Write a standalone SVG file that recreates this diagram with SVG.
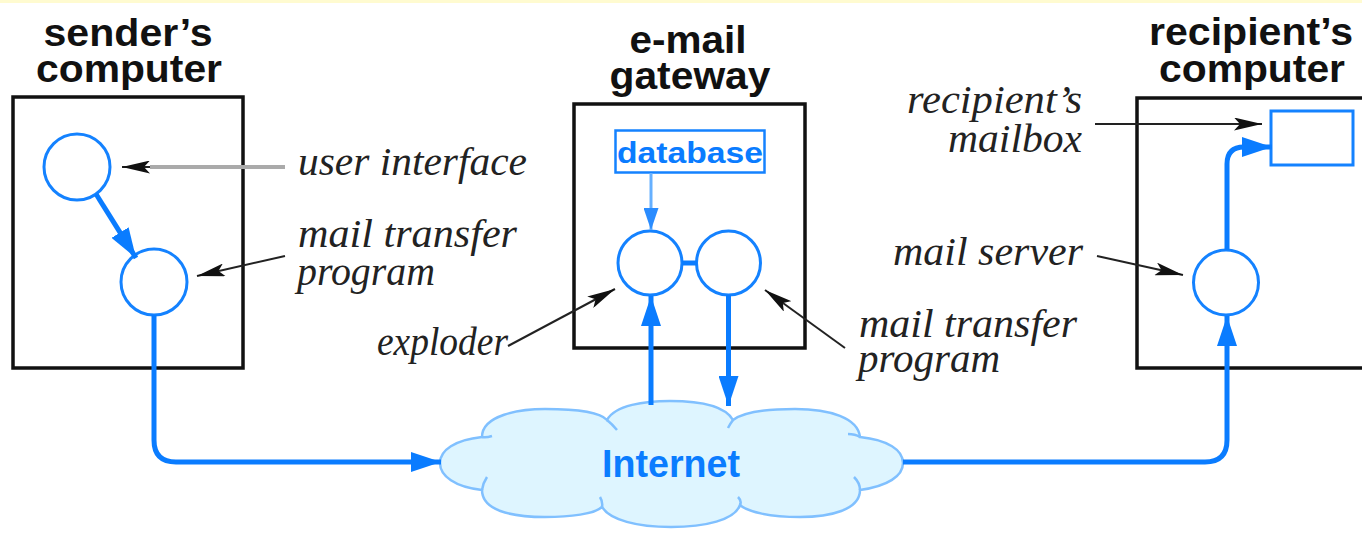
<svg xmlns="http://www.w3.org/2000/svg" width="1362" height="533" viewBox="0 0 1362 533">
<style>
.title{font-family:"Liberation Sans",Arial,sans-serif;font-weight:bold;font-size:38px;fill:#111;text-anchor:middle}
.lbl{font-family:"Liberation Serif","Times New Roman",serif;font-style:italic;font-size:40px;fill:#222}
.box{fill:#fff;stroke:#111;stroke-width:3.5}
.node{fill:#fff;stroke:#1482ff;stroke-width:3}
.flow{fill:none;stroke:#0a7cff;stroke-width:5;stroke-linecap:butt}
.ptr{fill:none;stroke:#222;stroke-width:2}
.gptr{fill:none;stroke:#aaa;stroke-width:4}
</style>
<defs>
<marker id="ab" markerUnits="userSpaceOnUse" viewBox="0 0 30 20" markerWidth="30" markerHeight="20" refX="30" refY="10" orient="auto">
<path d="M0,0 L30,10 L0,20 Z" fill="#0a7cff"/>
</marker>
<marker id="abs" markerUnits="userSpaceOnUse" viewBox="0 0 22 15" markerWidth="22" markerHeight="15" refX="22" refY="7.5" orient="auto">
<path d="M0,0 L22,7.5 L0,15 Z" fill="#2a8cff"/>
</marker>
<marker id="ak" markerUnits="userSpaceOnUse" viewBox="0 0 28 13" markerWidth="28" markerHeight="13" refX="28" refY="6.5" orient="auto">
<path d="M0,0 L28,6.5 L0,13 L6,6.5 Z" fill="#111"/>
</marker>
</defs>
<rect x="0" y="0" width="1362" height="533" fill="#fff"/>
<rect x="0" y="0" width="1362" height="3" fill="#fffbd0"/>

<g id="sender">
<text class="title" x="128" y="46" textLength="169" lengthAdjust="spacingAndGlyphs">sender’s</text>
<text class="title" x="129" y="82" textLength="186" lengthAdjust="spacingAndGlyphs">computer</text>
<rect class="box" x="13" y="97" width="230" height="271"/>
<circle id="sender-ui" class="node" cx="77" cy="167" r="33"/>
<circle id="sender-mtp" class="node" cx="154" cy="282" r="33"/>
</g>

<g id="gateway">
<text class="title" x="688" y="53" textLength="117" lengthAdjust="spacingAndGlyphs">e-mail</text>
<text class="title" x="690" y="89" textLength="161" lengthAdjust="spacingAndGlyphs">gateway</text>
<rect class="box" x="574" y="104" width="231" height="244"/>
<rect id="database" x="615.5" y="130.5" width="149" height="42" fill="#fff" stroke="#1482ff" stroke-width="2.5"/>
<text x="690" y="163" font-family="'Liberation Sans',Arial,sans-serif" font-weight="bold" font-size="30" fill="#0a7cff" text-anchor="middle" textLength="146" lengthAdjust="spacingAndGlyphs">database</text>
<circle id="exploder" class="node" cx="650" cy="263" r="32"/>
<circle id="gw-mtp" class="node" cx="728.5" cy="263" r="32"/>
</g>

<g id="recipient">
<text class="title" x="1251" y="45" textLength="204" lengthAdjust="spacingAndGlyphs">recipient’s</text>
<text class="title" x="1252" y="82" textLength="186" lengthAdjust="spacingAndGlyphs">computer</text>
<rect class="box" x="1137" y="98" width="240" height="270"/>
<rect id="mailbox" x="1271" y="111" width="82" height="54" fill="#fff" stroke="#1482ff" stroke-width="3"/>
<circle id="mail-server" class="node" cx="1226" cy="282.5" r="32.5"/>
</g>

<g id="internet">
<path d="M482,437 C482,415 520,409 545,409 C575,409 600,412 607,420 C615,405 645,401 670,401 C700,401 725,406 733,420 C745,411 770,409 795,409 C830,409 858,418 860,437 C888,440 903,450 903,463 C903,476 888,486 860,490 C860,510 830,517 800,517 C770,517 748,512 740,505 C735,520 705,527 671,527 C637,527 610,520 602,507 C595,514 570,517 545,517 C510,517 482,510 482,490 C455,487 440,476 440,463 C440,450 455,440 482,437 Z" fill="#def5ff" stroke="#80c0ff" stroke-width="2.5"/>
<path d="M482,437 Q486,438 492,436 M607,420 Q612,424 617,430 M733,420 Q730,424 728,428 M860,437 Q855,434 848,434 M860,490 Q860,483 854,477 M740,505 Q742,501 738,497 M602,507 Q603,502 600,497 M482,490 Q483,483 487,477" fill="none" stroke="#80c0ff" stroke-width="2.5"/>
<text x="671" y="477" font-family="'Liberation Sans',Arial,sans-serif" font-weight="bold" font-size="38" fill="#0a7cff" text-anchor="middle" textLength="138" lengthAdjust="spacingAndGlyphs">Internet</text>
</g>

<g id="labels">
<text class="lbl" x="298" y="175" textLength="229" lengthAdjust="spacingAndGlyphs">user interface</text>
<text class="lbl" x="298" y="247" textLength="219" lengthAdjust="spacingAndGlyphs">mail transfer</text>
<text class="lbl" x="297" y="285" textLength="138" lengthAdjust="spacingAndGlyphs">program</text>
<text class="lbl" x="377" y="355" textLength="131" lengthAdjust="spacingAndGlyphs">exploder</text>
<text class="lbl" x="859" y="337" textLength="218" lengthAdjust="spacingAndGlyphs">mail transfer</text>
<text class="lbl" x="858" y="372" textLength="142" lengthAdjust="spacingAndGlyphs">program</text>
<text class="lbl" x="1082" y="113" text-anchor="end" textLength="175" lengthAdjust="spacingAndGlyphs">recipient’s</text>
<text class="lbl" x="1082" y="152" text-anchor="end" textLength="134" lengthAdjust="spacingAndGlyphs">mailbox</text>
<text class="lbl" x="1083" y="265" text-anchor="end" textLength="190" lengthAdjust="spacingAndGlyphs">mail server</text>
</g>

<g id="connectors">
<path class="flow" d="M96,194 L136,258" marker-end="url(#ab)"/>
<path class="flow" d="M154,315 L154,440 Q154,462 176,462 L441,462" marker-end="url(#ab)"/>
<path d="M651,173 L651,230" fill="none" stroke="#66b0ff" stroke-width="3" marker-end="url(#abs)"/>
<path class="flow" d="M682,263 L697,263"/>
<path class="flow" d="M651,405 L651,296" marker-end="url(#ab)"/>
<path class="flow" d="M728.5,295 L728.5,406" marker-end="url(#ab)"/>
<path class="flow" d="M903,462 L1205,462 Q1227,462 1227,440 L1227,316" marker-end="url(#ab)"/>
<path class="flow" d="M1227,250 L1227,164 Q1227,147 1244,147 L1272,147" marker-end="url(#ab)"/>
<path class="gptr" d="M285,167 L150,167"/>
<path class="ptr" d="M150,167 L122,167" marker-end="url(#ak)"/>
<path class="ptr" d="M285,256 L197,276" marker-end="url(#ak)"/>
<path class="ptr" d="M508,346 L615,289" marker-end="url(#ak)"/>
<path class="ptr" d="M845,348 L765,290" marker-end="url(#ak)"/>
<path class="ptr" d="M1095,124 L1262,124" marker-end="url(#ak)"/>
<path class="ptr" d="M1097,256 L1183,275" marker-end="url(#ak)"/>
</g>
</svg>
